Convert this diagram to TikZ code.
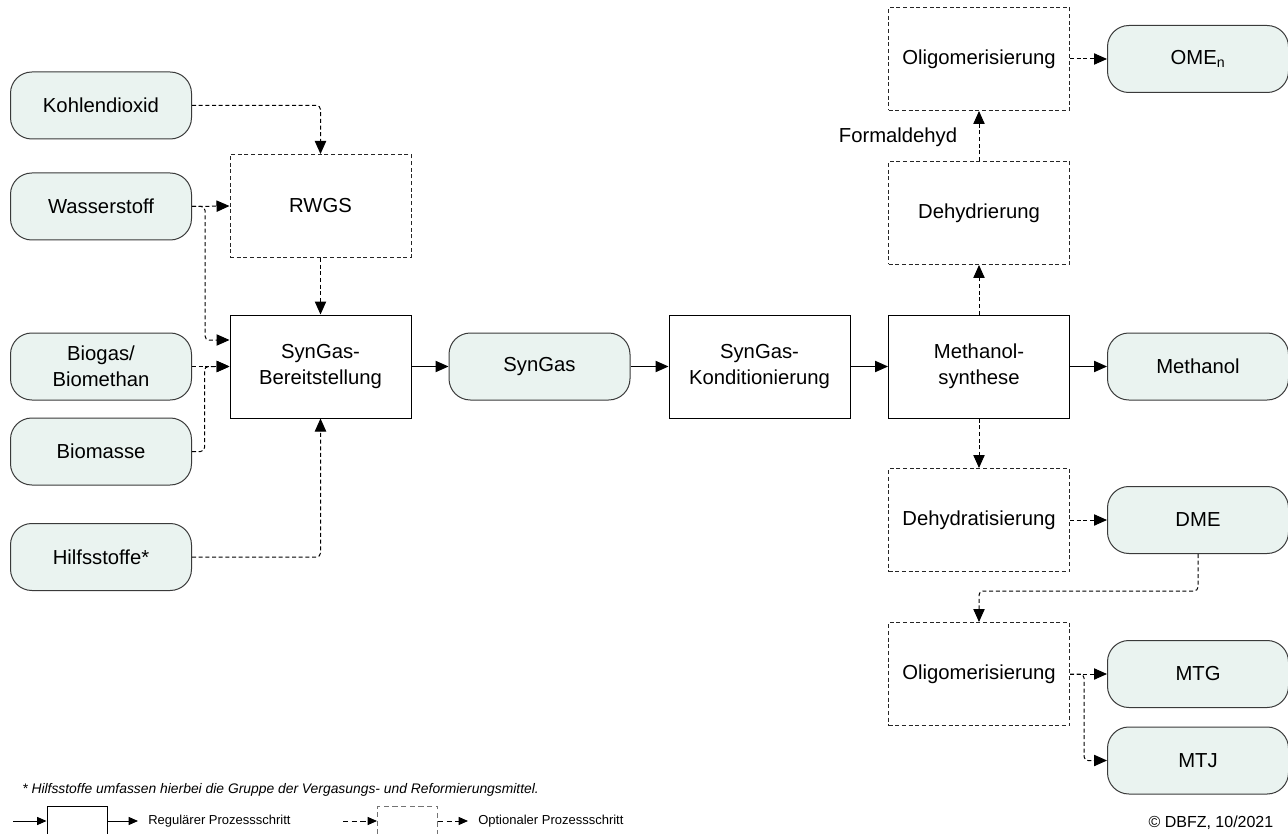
\documentclass[tikz,border=0pt]{standalone}
\usepackage{fontspec}
\setmainfont{Liberation Sans}
\usetikzlibrary{arrows.meta,calc}
\definecolor{prodfill}{HTML}{EAF3F0}
\definecolor{prodline}{HTML}{3A3A3A}

\begin{document}
\begin{tikzpicture}[
    x=0.75pt,y=-0.75pt,
    font=\fontsize{15.2}{19.5}\selectfont,
    proc/.style={rectangle,draw=black,fill=white,line width=0.75pt,
        minimum width=135.75pt,minimum height=77.25pt,inner sep=2pt,align=center},
    optproc/.style={proc,draw=black!85,dash pattern=on 3pt off 2pt},
    product/.style={rectangle,rounded corners=16pt,draw=prodline,fill=prodfill,
        line width=0.75pt,minimum width=135.75pt,minimum height=50.25pt,align=center},
    line/.style={draw=black,line width=0.75pt},
    arrow/.style={line,-{Triangle[length=9.75pt,width=8.5pt]}},
    optarrow/.style={arrow,dash pattern=on 3pt off 2pt,rounded corners=3pt},
    legbox/.style={proc,minimum width=45pt,minimum height=22.5pt},
    legarrow/.style={line,-{Triangle[length=7pt,width=6pt]}},
    note/.style={font=\fontsize{9.75}{12}\selectfont,inner ysep=0pt,inner xsep=7.5pt}
]
\useasboundingbox[fill=white] (0,0) rectangle (1288,834);
% inputs
\node[product] (kohlen) at (101,105.5) {Kohlendioxid};
\node[product] (wasser) at (101,206.5) {Wasserstoff};
\node[product] (biogas) at (101,366.5) {Biogas/\\Biomethan};
\node[product] (biomasse) at (101,451.5) {Biomasse};
\node[product] (hilfs) at (101,557) {Hilfsstoffe*};
% main line
\node[optproc] (rwgs) at (320.5,206) {RWGS};
\node[proc] (bereit) at (320.5,366.5) {SynGas-\\Bereitstellung};
\node[product] (syngas) at (539.5,366.5) {SynGas};
\node[proc] (kond) at (759.5,366.5) {SynGas-\\Konditionierung};
\node[proc] (methsyn) at (979,366.5) {Methanol-\\synthese};
\node[product] (methanol) at (1198,366.5) {Methanol};
% upper branch
\node[optproc] (dehydr) at (979,213) {Dehydrierung};
\node[optproc] (oligoA) at (979,59) {Oligomerisierung};
\node[product] (ome) at (1198,59) {OME\textsubscript{n}};
\node (formlbl) at (898,137) {Formaldehyd};
% lower branch
\node[optproc] (dehydrat) at (979,520) {Dehydratisierung};
\node[product] (dme) at (1198,520) {DME};
\node[optproc] (oligoB) at (979,674) {Oligomerisierung};
\node[product] (mtg) at (1198,674) {MTG};
\node[product] (mtj) at (1198,760.5) {MTJ};
% connectors
\draw[optarrow] (kohlen.east) -| (rwgs.north);
\draw[optarrow] (wasser.east) -- (rwgs.west);
\coordinate (h2in) at ($(bereit.west)+(0,-26.5)$);
\draw[optarrow] (wasser.east) -- ++(13,0) |- (h2in);
\draw[optarrow] (biogas.east) -- (bereit.west);
\draw[optarrow] (biomasse.east) -| ($(bereit.west)+(-25,0)$) -- (bereit.west);
\draw[optarrow] (hilfs.east) -| (bereit.south);
\draw[optarrow] (rwgs.south) -- (bereit.north);
\draw[arrow] (bereit.east) -- (syngas.west);
\draw[arrow] (syngas.east) -- (kond.west);
\draw[arrow] (kond.east) -- (methsyn.west);
\draw[arrow] (methsyn.east) -- (methanol.west);
\draw[optarrow] (methsyn.north) -- (dehydr.south);
\draw[optarrow] (dehydr.north) -- (oligoA.south);
\draw[optarrow] (oligoA.east) -- (ome.west);
\draw[optarrow] (methsyn.south) -- (dehydrat.north);
\draw[optarrow] (dehydrat.east) -- (dme.west);
\draw[optarrow] (dme.south) -- ++(0,37) -| (oligoB.north);
\draw[optarrow] (oligoB.east) -- (mtg.west);
\draw[optarrow] (oligoB.east) -- ++(14,0) |- (mtj.west);
% footnote and legend
\node[note,anchor=west,inner xsep=0pt,font=\fontsize{10.4}{12}\selectfont] (fnote) at (22,790)
    {\itshape * Hilfsstoffe umfassen hierbei die Gruppe der Vergasungs- und Reformierungsmittel.};
\coordinate (regin) at (13,821);
\node[legbox] (regbox) at (77,821) {};
\node[note,anchor=west] (regtxt) at (138,821) {Regulärer Prozessschritt};
\draw[legarrow] (regin) -- (regbox.west);
\draw[legarrow] (regbox.east) -- (regtxt.west);
\coordinate (optin) at (343,821);
\node[legbox,draw=black!55,dash pattern=on 4pt off 2.5pt] (optbox) at (407.5,821) {};
\node[note,anchor=west] (opttxt) at (468,821) {Optionaler Prozessschritt};
\draw[legarrow,dash pattern=on 4pt off 2.5pt] (optin) -- (optbox.west);
\draw[legarrow,dash pattern=on 4pt off 2.5pt] (optbox.east) -- (opttxt.west);
\node[anchor=east,font=\fontsize{12}{14}\selectfont] (copyr) at (1278,823) {\textcopyright{} DBFZ, 10/2021};
\end{tikzpicture}
\end{document}
